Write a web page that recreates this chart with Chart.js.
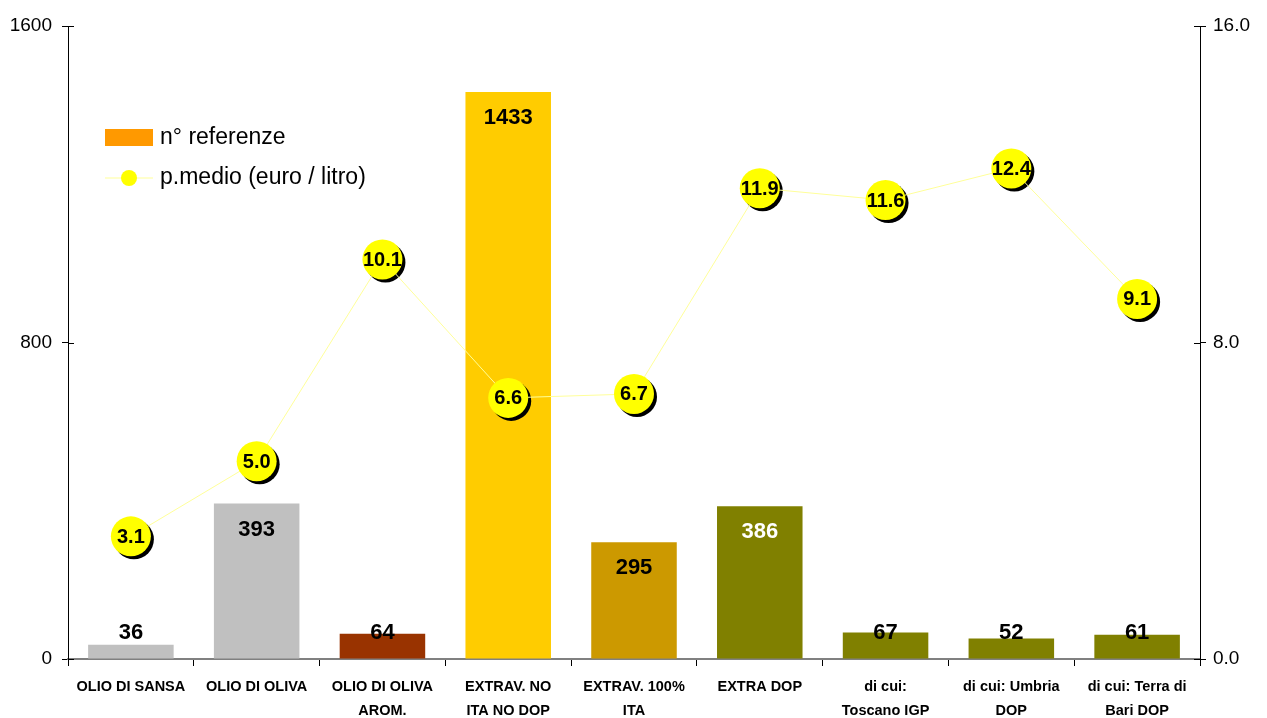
<!DOCTYPE html>
<html>
<head>
<meta charset="utf-8">
<script src="https://cdn.jsdelivr.net/npm/chart.js@4"></script>
<style>
  html, body { margin: 0; padding: 0; background: #fff; }
  #wrap { width: 1267px; height: 718px; }
</style>
</head>
<body>
<div id="wrap"><canvas id="oilChart" width="1267" height="718"></canvas></div>
<script>
// Data
const categories = [
    ["OLIO DI SANSA"], ["OLIO DI OLIVA"], ["OLIO DI OLIVA", "AROM."],
    ["EXTRAV. NO", "ITA NO DOP"], ["EXTRAV. 100%", "ITA"], ["EXTRA DOP"],
    ["di cui:", "Toscano IGP"], ["di cui: Umbria", "DOP"], ["di cui: Terra di", "Bari DOP"]
];
const referenze = [36, 393, 64, 1433, 295, 386, 67, 52, 61];
const prezzoMedio = [3.1, 5.0, 10.1, 6.6, 6.7, 11.9, 11.6, 12.4, 9.1];
const leftTicks = [0, 800, 1600];
const rightTicks = [0, 8, 16];

const barColors = ['#C0C0C0', '#C0C0C0', '#993300', '#FFCC00', '#CC9900',
                   '#808000', '#808000', '#808000', '#808000'];
const labelColors = ['#000', '#000', '#000', '#000', '#000', '#fff', '#000', '#000', '#000'];
const FONT = '"Liberation Sans", Arial, sans-serif';

// shadows under the price markers, drawn before the line dataset
const shadowPlugin = {
    id: 'shadows',
    beforeDatasetDraw(chart, args) {
        if (args.index !== 1) return;
        const ctx = chart.ctx;
        ctx.save();
        ctx.fillStyle = '#000';
        args.meta.data.forEach(pt => {
            ctx.beginPath();
            ctx.arc(pt.x + 3, pt.y + 3, 20, 0, Math.PI * 2);
            ctx.fill();
        });
        ctx.restore();
    }
};

// value labels, inner tick marks, legend
const labelPlugin = {
    id: 'labels',
    afterDatasetsDraw(chart) {
        const ctx = chart.ctx;
        ctx.save();
        ctx.textAlign = 'center';
        ctx.textBaseline = 'middle';

        ctx.font = 'bold 22px ' + FONT;
        chart.getDatasetMeta(0).data.forEach((bar, i) => {
            ctx.fillStyle = labelColors[i];
            const y = Math.min(bar.y + 26, bar.base - 26);
            ctx.fillText(String(referenze[i]), bar.x, y);
        });

        ctx.font = 'bold 20px ' + FONT;
        ctx.fillStyle = '#000';
        chart.getDatasetMeta(1).data.forEach((pt, i) => {
            ctx.fillText(prezzoMedio[i].toFixed(1), pt.x, pt.y + 1);
        });

        // tick marks crossing the value axes
        ctx.strokeStyle = '#000';
        ctx.lineWidth = 1;
        const ya = chart.scales.y, yb = chart.scales.y2;
        leftTicks.forEach(v => {
            const py = Math.round(ya.getPixelForValue(v)) + 0.5;
            ctx.beginPath(); ctx.moveTo(ya.right, py); ctx.lineTo(ya.right + 6, py); ctx.stroke();
        });
        rightTicks.forEach(v => {
            const py = Math.round(yb.getPixelForValue(v)) + 0.5;
            ctx.beginPath(); ctx.moveTo(yb.left - 6, py); ctx.lineTo(yb.left, py); ctx.stroke();
        });

        // legend
        ctx.textAlign = 'left';
        ctx.font = '23px ' + FONT;
        ctx.fillStyle = '#FF9900';
        ctx.fillRect(105, 129, 48, 17);
        ctx.fillStyle = '#000';
        ctx.fillText('n° referenze', 160, 138);

        ctx.strokeStyle = '#FFFF99';
        ctx.beginPath();
        ctx.moveTo(105, 178);
        ctx.lineTo(153, 178);
        ctx.stroke();
        ctx.fillStyle = '#FFFF00';
        ctx.beginPath();
        ctx.arc(129, 178, 8, 0, Math.PI * 2);
        ctx.fill();
        ctx.fillStyle = '#000';
        ctx.fillText('p.medio (euro / litro)', 160, 178);
        ctx.restore();
    }
};

const ctx = document.getElementById('oilChart').getContext('2d');
new Chart(ctx, {
    data: {
        labels: categories,
        datasets: [{
            type: 'bar',
            label: 'n° referenze',
            data: referenze,
            backgroundColor: barColors,
            borderWidth: 0,
            barPercentage: 0.68,
            categoryPercentage: 1.0,
            yAxisID: 'y',
            order: 1
        }, {
            type: 'line',
            label: 'p.medio (euro / litro)',
            data: prezzoMedio,
            borderColor: '#FFFF99',
            borderWidth: 1,
            backgroundColor: '#FFFF00',
            pointBackgroundColor: '#FFFF00',
            pointBorderWidth: 0,
            pointRadius: 20,
            pointHoverRadius: 20,
            tension: 0,
            yAxisID: 'y2',
            order: 0
        }]
    },
    options: {
        responsive: false,
        animation: false,
        layout: { padding: { top: 26, left: 0, right: 0, bottom: 0 } },
        plugins: {
            legend: { display: false },
            tooltip: { enabled: false }
        },
        scales: {
            x: {
                offset: true,
                grid: { offset: true, drawOnChartArea: false, tickLength: 7, color: '#000' },
                border: { color: '#808080', width: 2 },
                ticks: {
                    maxRotation: 0, autoSkip: false, color: '#000', padding: 9,
                    font: { family: FONT, size: 14.5, weight: 'bold', lineHeight: 1.65 }
                },
                afterFit(scale) { scale.height = 59; }
            },
            y: {
                position: 'left',
                min: 0, max: 1600,
                afterBuildTicks(scale) { scale.ticks = leftTicks.map(v => ({ value: v })); },
                grid: { drawOnChartArea: false, tickLength: 6, color: '#000' },
                border: { color: '#000' },
                ticks: {
                    color: '#000', padding: 10, font: { family: FONT, size: 19 },
                    callback: v => String(v)
                },
                afterFit(scale) { scale.width = 68; }
            },
            y2: {
                position: 'right',
                min: 0, max: 16,
                afterBuildTicks(scale) { scale.ticks = rightTicks.map(v => ({ value: v })); },
                grid: { drawOnChartArea: false, tickLength: 6, color: '#000' },
                border: { color: '#000' },
                ticks: {
                    color: '#000', padding: 7, font: { family: FONT, size: 19 },
                    callback: v => Number(v).toFixed(1)
                },
                afterFit(scale) { scale.width = 67; }
            }
        }
    },
    plugins: [shadowPlugin, labelPlugin]
});
</script>
</body>
</html>
